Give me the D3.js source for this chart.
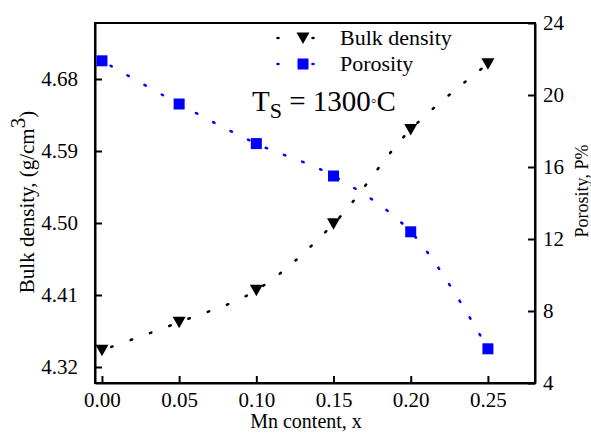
<!DOCTYPE html>
<meta charset="utf-8">
<style>
body { margin: 0; background: #fff; }
text { font-family: "Liberation Serif", "Times New Roman", serif; fill: #000; }
.axis path, .axis line { stroke: #000; stroke-width: 2px; }
</style>
<svg width="591" height="433"></svg>
<script src="https://d3js.org/d3.v7.min.js"></script>
<script>

// data
var mnContent = [0.00, 0.05, 0.10, 0.15, 0.20, 0.25];
var bulkDensity = [4.341, 4.376, 4.416, 4.499, 4.617, 4.699];
var porosity = [21.9, 19.5, 17.3, 15.5, 12.4, 5.9];
var xTicks = [0.00, 0.05, 0.10, 0.15, 0.20, 0.25];
var densityTicks = [4.32, 4.41, 4.50, 4.59, 4.68];
var porosityTicks = [4, 8, 12, 16, 20, 24];

var svg = d3.select("svg");
var plotLeft = 95, plotRight = 535, plotTop = 23, plotBottom = 383;
var serif = "'Liberation Serif', 'Times New Roman', serif";

var x = d3.scaleLinear().domain([-0.0045, 0.2805]).range([plotLeft, plotRight]);
var yL = d3.scaleLinear().domain([4.30, 4.75]).range([plotBottom, plotTop]);
var yR = d3.scaleLinear().domain([4, 24]).range([plotBottom, plotTop]);

// frame
svg.append("rect")
  .attr("x", plotLeft).attr("y", plotTop)
  .attr("width", plotRight - plotLeft).attr("height", plotBottom - plotTop)
  .attr("fill", "none").attr("stroke", "#000").attr("stroke-width", 2);

svg.append("g").attr("class", "axis")
  .attr("transform", "translate(0," + plotBottom + ")")
  .call(d3.axisBottom(x).tickValues(xTicks).tickFormat(d3.format(".2f"))
    .tickSizeInner(-7).tickSizeOuter(0).tickPadding(9));

svg.append("g").attr("class", "axis")
  .attr("transform", "translate(" + plotLeft + ",0)")
  .call(d3.axisLeft(yL).tickValues(densityTicks).tickFormat(d3.format(".2f"))
    .tickSizeInner(-7).tickSizeOuter(0).tickPadding(17));

svg.append("g").attr("class", "axis")
  .attr("transform", "translate(" + plotRight + ",0)")
  .call(d3.axisRight(yR).tickValues(porosityTicks)
    .tickSizeInner(-7).tickSizeOuter(0).tickPadding(8));

svg.selectAll(".axis").attr("font-family", serif).attr("font-size", 21);

// lines
var densLine = d3.line()
  .x(function(d, i) { return x(mnContent[i]); })
  .y(function(d) { return yL(d); })
  .curve(d3.curveCatmullRom);
var porLine = d3.line()
  .x(function(d, i) { return x(mnContent[i]); })
  .y(function(d) { return yR(d); })
  .curve(d3.curveCatmullRom);

svg.append("path").datum(bulkDensity)
  .attr("d", densLine)
  .attr("fill", "none").attr("stroke", "#000").attr("stroke-width", 2.5)
  .attr("stroke-linecap", "round").attr("stroke-dasharray", "1.5,19")
  .attr("stroke-dashoffset", -10);

svg.append("path").datum(porosity)
  .attr("d", porLine)
  .attr("fill", "none").attr("stroke", "#0000ff").attr("stroke-width", 2.5)
  .attr("stroke-linecap", "round").attr("stroke-dasharray", "1.5,18")
  .attr("stroke-dashoffset", -10);

var tri = "M-6.5,-5.5L6.5,-5.5L0,6Z";

svg.selectAll(".tri").data(bulkDensity).enter().append("path")
  .attr("class", "tri")
  .attr("d", tri)
  .attr("transform", function(d, i) { return "translate(" + x(mnContent[i]) + "," + yL(d) + ")"; })
  .attr("fill", "#000");

svg.selectAll(".sq").data(porosity).enter().append("rect")
  .attr("class", "sq")
  .attr("x", function(d, i) { return x(mnContent[i]) - 5.5; })
  .attr("y", function(d) { return yR(d) - 5.5; })
  .attr("width", 11).attr("height", 11)
  .attr("fill", "#0000ff");

// legend
var legend = [
  {label: "Bulk density", color: "#000", y: 38, shape: "tri"},
  {label: "Porosity", color: "#0000ff", y: 64, shape: "sq"}
];
legend.forEach(function(l) {
  [278, 313].forEach(function(cx) {
    svg.append("ellipse").attr("cx", cx).attr("cy", l.y)
      .attr("rx", 1.8).attr("ry", 1.3).attr("fill", l.color);
  });
  if (l.shape == "tri") {
    svg.append("path").attr("d", tri)
      .attr("transform", "translate(303," + l.y + ")").attr("fill", l.color);
  } else {
    svg.append("rect").attr("x", 297.5).attr("y", l.y - 5.5)
      .attr("width", 11).attr("height", 11).attr("fill", l.color);
  }
  svg.append("text").attr("x", 340).attr("y", l.y + 7)
    .style("font-size", "22px").text(l.label);
});

// annotation
var ann = svg.append("text").attr("x", 252).attr("y", 111).style("font-size", "29px");
ann.append("tspan").text("T");
ann.append("tspan").attr("dy", 7).style("font-size", "22px").text("S");
ann.append("tspan").attr("dy", -7).text(" = 1300");
ann.append("tspan").style("font-size", "16px").attr("dy", -5).text("\u25E6");
ann.append("tspan").attr("dy", 5).text("C");

// axis titles
svg.append("text")
  .attr("x", 306).attr("y", 428)
  .attr("text-anchor", "middle").style("font-size", "20px")
  .text("Mn content, x");

var lt = svg.append("text")
  .attr("transform", "translate(34,202) rotate(-90)")
  .attr("text-anchor", "middle").style("font-size", "21px");
lt.append("tspan").text("Bulk density, (g/cm");
lt.append("tspan").attr("dy", -9).text("3");
lt.append("tspan").attr("dy", 9).text(")");

svg.append("text")
  .attr("transform", "translate(588,191) rotate(-90)")
  .attr("text-anchor", "middle").style("font-size", "18px")
  .text("Porosity, P%");

</script>
